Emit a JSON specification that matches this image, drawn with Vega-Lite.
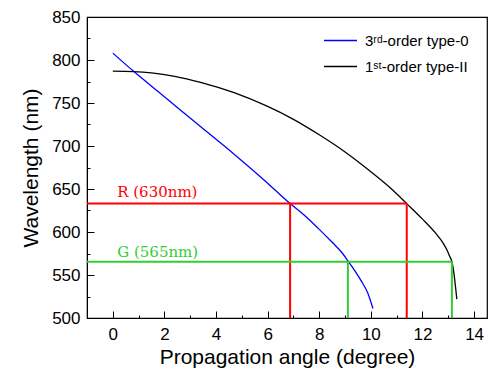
{
  "$schema": "https://vega.github.io/schema/vega-lite/v6.json",
  "width": 400,
  "height": 301,
  "autosize": {"type": "none"},
  "padding": {"left": 87, "top": 17, "right": 7, "bottom": 59},
  "config": {
    "view": {"stroke": "black", "strokeWidth": 1.2},
    "axis": {
      "labelFont": "Liberation Sans",
      "titleFont": "Liberation Sans",
      "labelColor": "black",
      "titleColor": "black",
      "domainColor": "black",
      "tickColor": "black",
      "grid": false,
      "labelFontSize": 17,
      "titleFontSize": 21,
      "titleFontWeight": "normal"
    }
  },
  "resolve": {"axis": {"x": "independent", "y": "independent"}},
  "datasets": {
    "curves": [
      {"s": "3ʳᵈ-order type-0", "x": 0, "y": 808},
      {"s": "3ʳᵈ-order type-0", "x": 0.84, "y": 786},
      {"s": "3ʳᵈ-order type-0", "x": 1.87, "y": 760.5},
      {"s": "3ʳᵈ-order type-0", "x": 3.42, "y": 722},
      {"s": "3ʳᵈ-order type-0", "x": 4.7, "y": 690.5},
      {"s": "3ʳᵈ-order type-0", "x": 5.88, "y": 660},
      {"s": "3ʳᵈ-order type-0", "x": 6.87, "y": 633},
      {"s": "3ʳᵈ-order type-0", "x": 7.4, "y": 620},
      {"s": "3ʳᵈ-order type-0", "x": 7.95, "y": 604.5},
      {"s": "3ʳᵈ-order type-0", "x": 8.5, "y": 588},
      {"s": "3ʳᵈ-order type-0", "x": 8.85, "y": 577},
      {"s": "3ʳᵈ-order type-0", "x": 9.11, "y": 566.5},
      {"s": "3ʳᵈ-order type-0", "x": 9.4, "y": 554},
      {"s": "3ʳᵈ-order type-0", "x": 9.62, "y": 543.5},
      {"s": "3ʳᵈ-order type-0", "x": 9.88, "y": 529},
      {"s": "3ʳᵈ-order type-0", "x": 10.08, "y": 511},
      {"s": "1ˢᵗ-order type-II", "x": 0, "y": 787},
      {"s": "1ˢᵗ-order type-II", "x": 0.8, "y": 786.5},
      {"s": "1ˢᵗ-order type-II", "x": 1.5, "y": 785},
      {"s": "1ˢᵗ-order type-II", "x": 2.4, "y": 781},
      {"s": "1ˢᵗ-order type-II", "x": 3.4, "y": 774},
      {"s": "1ˢᵗ-order type-II", "x": 4.7, "y": 762},
      {"s": "1ˢᵗ-order type-II", "x": 6.0, "y": 746},
      {"s": "1ˢᵗ-order type-II", "x": 7.0, "y": 731},
      {"s": "1ˢᵗ-order type-II", "x": 8.0, "y": 713},
      {"s": "1ˢᵗ-order type-II", "x": 9.0, "y": 693},
      {"s": "1ˢᵗ-order type-II", "x": 10.0, "y": 670},
      {"s": "1ˢᵗ-order type-II", "x": 10.8, "y": 650},
      {"s": "1ˢᵗ-order type-II", "x": 11.39, "y": 633},
      {"s": "1ˢᵗ-order type-II", "x": 12.0, "y": 615},
      {"s": "1ˢᵗ-order type-II", "x": 12.5, "y": 599},
      {"s": "1ˢᵗ-order type-II", "x": 12.8, "y": 587},
      {"s": "1ˢᵗ-order type-II", "x": 12.95, "y": 579},
      {"s": "1ˢᵗ-order type-II", "x": 13.05, "y": 572},
      {"s": "1ˢᵗ-order type-II", "x": 13.14, "y": 565.5},
      {"s": "1ˢᵗ-order type-II", "x": 13.2, "y": 556},
      {"s": "1ˢᵗ-order type-II", "x": 13.33, "y": 522}
    ],
    "guides": [
      {"x": -1, "xe": 11.39, "y": 633, "ye": 633, "c": "#ff0000"},
      {"x": 6.87, "xe": 6.87, "y": 500, "ye": 633, "c": "#ff0000"},
      {"x": 11.39, "xe": 11.39, "y": 500, "ye": 633, "c": "#ff0000"},
      {"x": -1, "xe": 13.14, "y": 565.5, "ye": 565.5, "c": "#33cc33"},
      {"x": 9.11, "xe": 9.11, "y": 500, "ye": 565.5, "c": "#33cc33"},
      {"x": 13.14, "xe": 13.14, "y": 500, "ye": 565.5, "c": "#33cc33"}
    ],
    "labels": [
      {"x": 0.17, "y": 646, "t": "R (630nm)", "c": "#ff0000"},
      {"x": 0.17, "y": 577, "t": "G (565nm)", "c": "#33cc33"}
    ]
  },
  "layer": [
    {
      "data": {"name": "curves"},
      "mark": {"type": "line", "strokeWidth": 1.3, "interpolate": "monotone"},
      "encoding": {
        "x": {
          "field": "x", "type": "quantitative",
          "scale": {"domain": [-1, 14.5], "nice": false, "zero": false},
          "axis": {"orient": "bottom", "title": "Propagation angle (degree)", "values": [0, 2, 4, 6, 8, 10, 12, 14], "tickSize": -7, "labelPadding": 15}
        },
        "y": {
          "field": "y", "type": "quantitative",
          "scale": {"domain": [500, 850], "nice": false, "zero": false},
          "axis": {"orient": "left", "title": "Wavelength (nm)", "values": [500, 550, 600, 650, 700, 750, 800, 850], "tickSize": -7, "labelPadding": 14, "titlePadding": 10}
        },
        "color": {
          "field": "s", "type": "nominal",
          "scale": {"domain": ["3ʳᵈ-order type-0", "1ˢᵗ-order type-II"], "range": ["#0000ff", "#000000"]},
          "legend": {
            "orient": "none", "legendX": 236, "legendY": 6, "title": null,
            "symbolType": "stroke", "symbolSize": 1089, "symbolStrokeWidth": 1.3,
            "labelFont": "Liberation Sans, DejaVu Sans", "labelFontSize": 15, "labelColor": "black",
            "labelOffset": 7, "rowPadding": -8
          }
        },
        "order": {"field": "x", "type": "quantitative"}
      }
    },
    {
      "data": {"name": "guides"},
      "mark": {"type": "rule", "strokeWidth": 2},
      "encoding": {
        "x": {"field": "x", "type": "quantitative",
          "axis": {"orient": "bottom", "title": null, "labels": false, "domain": false, "values": [-1, 1, 3, 5, 7, 9, 11, 13], "tickSize": -3}},
        "x2": {"field": "xe"},
        "y": {"field": "y", "type": "quantitative",
          "axis": {"orient": "left", "title": null, "labels": false, "domain": false, "values": [525, 575, 625, 675, 725, 775, 825], "tickSize": -3}},
        "y2": {"field": "ye"},
        "stroke": {"field": "c", "type": "nominal", "scale": null}
      }
    },
    {
      "data": {"name": "labels"},
      "mark": {"type": "text", "align": "left", "baseline": "middle", "font": "DejaVu Serif", "fontSize": 15},
      "encoding": {
        "x": {"field": "x", "type": "quantitative", "axis": null},
        "y": {"field": "y", "type": "quantitative", "axis": null},
        "text": {"field": "t"},
        "fill": {"field": "c", "type": "nominal", "scale": null}
      }
    }
  ]
}
